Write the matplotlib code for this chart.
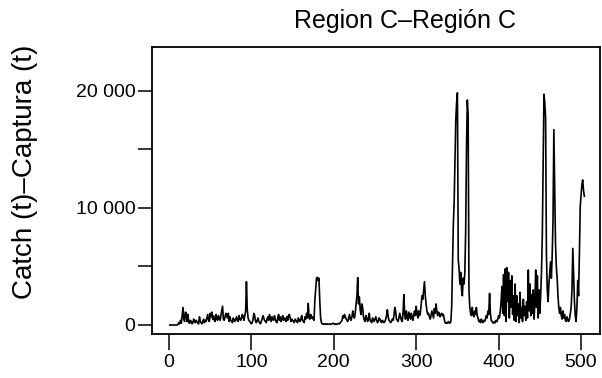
import numpy as np
import matplotlib.pyplot as plt

# catch per time step (t), Region C
catch = [
    0, 0, 0, 0, 0, 0, 0, 0, 0, 0,
    50, 200, 100, 400, 150, 800, 1500, 500, 300, 1100,
    1000, 300, 900, 200, 150, 400, 300, 100, 200, 500,
    300, 200, 400, 300, 150, 100, 700, 300, 200, 100,
    300, 500, 200, 400, 300, 600, 900, 400, 300, 1000,
    700, 1100, 500, 800, 400, 300, 900, 600, 400, 800,
    600, 400, 800, 1200, 1600, 500, 400, 700, 1000, 900,
    600, 1000, 300, 700, 400, 300, 200, 600, 400, 300,
    500, 700, 400, 300, 800, 500, 400, 600, 900, 700,
    400, 800, 1200, 3700, 1300, 600, 400, 300, 200, 100,
    200, 500, 1000, 800, 300, 200, 400, 600, 300, 200,
    100, 300, 500, 800, 600, 400, 300, 200, 500, 700,
    400, 900, 600, 300, 700, 500, 400, 800, 500, 300,
    200, 600, 900, 400, 700, 300, 500, 800, 400, 600,
    500, 300, 700, 400, 800, 900, 600, 300, 500, 400,
    300, 200, 500, 400, 300, 200, 600, 400, 300, 500,
    800, 400, 300, 200, 700, 500, 1000, 600, 1850, 600,
    500, 900, 600, 700, 500, 400, 2100, 3000, 4000, 4080,
    3800, 4000, 2000, 600, 200, 100, 100, 50, 100, 80,
    50, 100, 50, 80, 100, 50, 80, 100, 150, 100,
    50, 100, 80, 50, 100, 150, 100, 200, 300, 400,
    800, 600, 900, 700, 500, 400, 300, 600, 900, 500,
    400, 700, 1200, 800, 600, 1000, 1800, 2400, 4050, 1800,
    2400, 1300, 900, 1800, 1500, 700, 400, 300, 800, 600,
    300, 500, 1000, 400, 300, 200, 600, 400, 300, 500,
    700, 400, 200, 300, 600, 500, 300, 200, 400, 300,
    200, 300, 500, 800, 1300, 700, 400, 300, 200, 300,
    500, 400, 800, 1500, 1200, 500, 400, 300, 600, 1000,
    700, 400, 300, 1000, 2600, 900, 500, 1200, 700, 400,
    1100, 800, 500, 1000, 600, 400, 900, 1200, 800, 1600,
    1000, 600, 1200, 800, 1000, 1800, 2500, 2200, 3000, 3700,
    2500, 1800, 1200, 900, 1000, 700, 500, 800, 1200, 900,
    600, 1400, 1000, 1800, 1200, 800, 1100, 1000, 700, 900,
    1000, 800, 900, 500, 200, 150, 200, 150, 300, 200,
    150, 300, 1500, 5000, 8500, 10400, 14000, 17500, 19000, 19850,
    5600, 4800, 3500, 4500, 3000, 2500, 4000, 3500, 4500, 8000,
    15000, 19230, 18000, 3000, 1500, 1000, 800, 1500, 900, 700,
    1200, 900, 1500, 800, 600, 300, 400, 200, 500, 300,
    200, 400, 300, 500, 800, 600, 1200, 900, 2700, 1000,
    400, 300, 200, 150, 300, 200, 400, 300, 500, 800,
    600, 1200, 2000, 3300, 1000, 4300, 800, 4800, 300, 4900,
    2000, 4500, 600, 3800, 1500, 4200, 900, 2500, 400, 3500,
    300, 2500, 800, 1800, 200, 2800, 600, 1500, 300, 2200,
    800, 1600, 400, 2000, 600, 4700, 1200, 3500, 800, 2600,
    1000, 3000, 500, 2000, 4700, 1500, 4200, 600, 3000, 1000,
    2500, 4500, 7600, 14000, 19730, 19000, 17700, 6000, 3000, 2000,
    3500, 4500, 5400, 4000, 6000, 9000, 16700, 12000, 7000, 5000,
    4000, 2500, 1500, 1000, 1500, 800, 500, 1200, 600, 900,
    400, 300, 700, 400, 300, 500, 1000, 1500, 3000, 6550,
    4300, 2000, 800, 300, 1500, 3800, 2500, 6000, 10100, 11000,
    12000, 12400, 11500, 11000,
]
t = np.arange(1, len(catch) + 1)

x_ticks = [0, 100, 200, 300, 400, 500]
y_ticks = [0, 5000, 10000, 15000, 20000]
y_labels = ['0', '', '10 000', '', '20 000']

plt.rcParams['font.family'] = ['Liberation Sans', 'DejaVu Sans']

fig = plt.figure(figsize=(6.02, 3.78), dpi=100)
ax = fig.add_axes([152 / 602, 44 / 378, 448 / 602, 287 / 378])
ax.plot(t, catch, c='k', lw=1.2)

ax.set_xlim(-20.6, 523)
ax.set_ylim(-770, 23760)
ax.set_xticks(x_ticks)
ax.set_xticklabels([str(v) for v in x_ticks])
ax.set_yticks(y_ticks)
ax.set_yticklabels(y_labels)
ax.tick_params(direction='out', length=10, width=1.1, labelsize=14, pad=2, colors='k')
ax.tick_params(axis='x', length=11.5, pad=3)
for s in ax.spines.values():
    s.set_linewidth(1.3)

# axis title sits a bit above the middle of the box, as R places it
fig.text(25 / 602, 1 - 172 / 378, 'Catch (t)\u2013Captura (t)', fontsize=20,
         rotation=90, ha='center', va='center')
fig.text(405 / 602, 1 - 21 / 378, 'Region C\u2013Regi\u00f3n C', fontsize=18, ha='center', va='center')

fig.savefig('out.png', dpi=100)
